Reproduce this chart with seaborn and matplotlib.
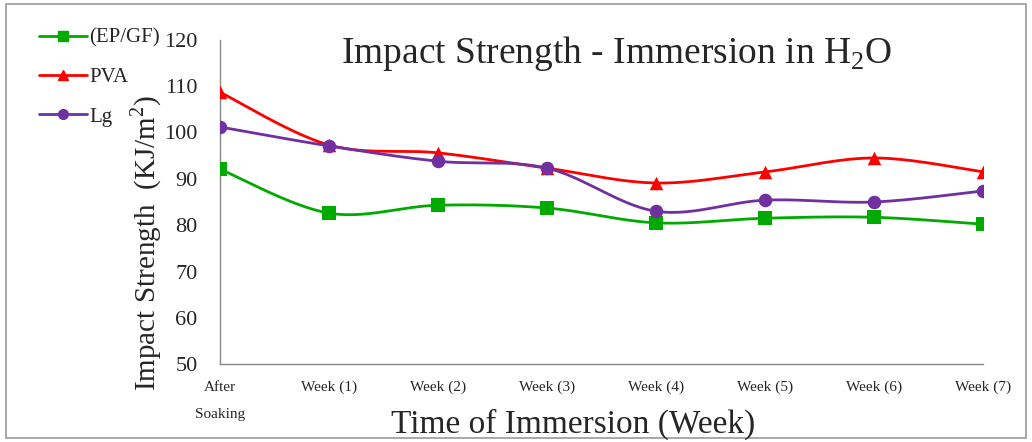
import numpy as np
import pandas as pd
import matplotlib
matplotlib.use("Agg")
import matplotlib.pyplot as plt
import seaborn as sns
from matplotlib.patches import Rectangle

# data
weeks = ["After\nSoaking", "Week (1)", "Week (2)", "Week (3)",
         "Week (4)", "Week (5)", "Week (6)", "Week (7)"]
ep_gf = [92.1, 82.6, 84.3, 83.7, 80.5, 81.5, 81.7, 80.2]
pva = [108.7, 97.3, 95.6, 92.3, 89.1, 91.5, 94.5, 91.5]
lg = [101.2, 97.1, 93.8, 92.3, 83.0, 85.4, 85.0, 87.4]

series = {"(EP/GF)": ep_gf, "PVA": pva, "Lg": lg}
colors = {"(EP/GF)": "#00aa00", "PVA": "#ff0000", "Lg": "#7030a0"}
markers = {"(EP/GF)": "s", "PVA": "^", "Lg": "o"}

sns.set_style("white")
plt.rcParams["font.family"] = ["Liberation Serif", "DejaVu Serif"]
plt.rcParams["mathtext.fontset"] = "custom"
plt.rcParams["mathtext.rm"] = "Liberation Serif"


# excel-like smoothed line (bezier through the points)
def smooth(x, y, n=30):
    x = np.asarray(x, float)
    y = np.asarray(y, float)
    xs, ys = [], []
    for i in range(len(x) - 1):
        i0, i3 = max(i - 1, 0), min(i + 2, len(x) - 1)
        p0 = np.array([x[i], y[i]])
        p3 = np.array([x[i + 1], y[i + 1]])
        p1 = p0 + (p3 - np.array([x[i0], y[i0]])) / 6
        p2 = p3 - (np.array([x[i3], y[i3]]) - p0) / 6
        t = np.linspace(0, 1, n)[:, None]
        pts = (1 - t) ** 3 * p0 + 3 * (1 - t) ** 2 * t * p1 + 3 * (1 - t) * t ** 2 * p2 + t ** 3 * p3
        xs.append(pts[:, 0])
        ys.append(pts[:, 1])
    return np.concatenate(xs), np.concatenate(ys)


rows = []
for name, vals in series.items():
    for i, v in enumerate(vals):
        rows.append({"x": i, "value": v, "series": name})
df = pd.DataFrame(rows)

fig = plt.figure(figsize=(10.32, 4.42), dpi=100)
ax = fig.add_axes([0.213, 0.176, 0.740, 0.734])

handles = []
for name, vals in series.items():
    sx, sy = smooth(range(len(vals)), vals)
    ax.plot(sx, sy, color=colors[name], lw=2, zorder=2)
    sub = df[df["series"] == name]
    sns.scatterplot(data=sub, x="x", y="value", marker=markers[name], color=colors[name],
                    s=95, edgecolor=colors[name], linewidth=0, ax=ax, zorder=3)
    handles.append(plt.Line2D([], [], color=colors[name], lw=2, marker=markers[name],
                              markersize=7, label=name))

ax.set_xlim(0, 7)
ax.set_ylim(50, 120)
ax.set_yticks(range(50, 121, 10))
ax.set_xticks(range(len(weeks)))
ax.set_xticklabels(weeks, fontsize=11, linespacing=2.4, va="top")
ax.tick_params(axis="y", labelsize=16, length=6, color="#888888", direction="out", pad=10)
ax.tick_params(axis="x", length=6, color="#888888", direction="out", pad=6)
ax.set_xlabel("")
ax.set_ylabel("")
for s in ["top", "right"]:
    ax.spines[s].set_visible(False)
for s in ["left", "bottom"]:
    ax.spines[s].set_color("#888888")
    ax.spines[s].set_linewidth(1)

fig.text(0.142, 0.45, "Impact Strength  (KJ/m$^2$)", rotation=90, fontsize=21,
         ha="center", va="center")
fig.text(0.555, 0.04, "Time of Immersion (Week)", fontsize=24, ha="center", va="center")
fig.text(0.598, 0.88, "Impact Strength - Immersion in H$_2$O", fontsize=27,
         ha="center", va="center")

fig.legend(handles=handles, loc="upper left", bbox_to_anchor=(0.03, 0.955), frameon=False,
           fontsize=15, handlelength=2.3, handletextpad=0.1, labelspacing=0.95,
           borderaxespad=0)

fig.patches.append(Rectangle((0.006, 0.01), 0.988, 0.98, transform=fig.transFigure,
                             fill=False, edgecolor="#999999", lw=1.2))

fig.savefig("out.png", dpi=100, facecolor="white")
